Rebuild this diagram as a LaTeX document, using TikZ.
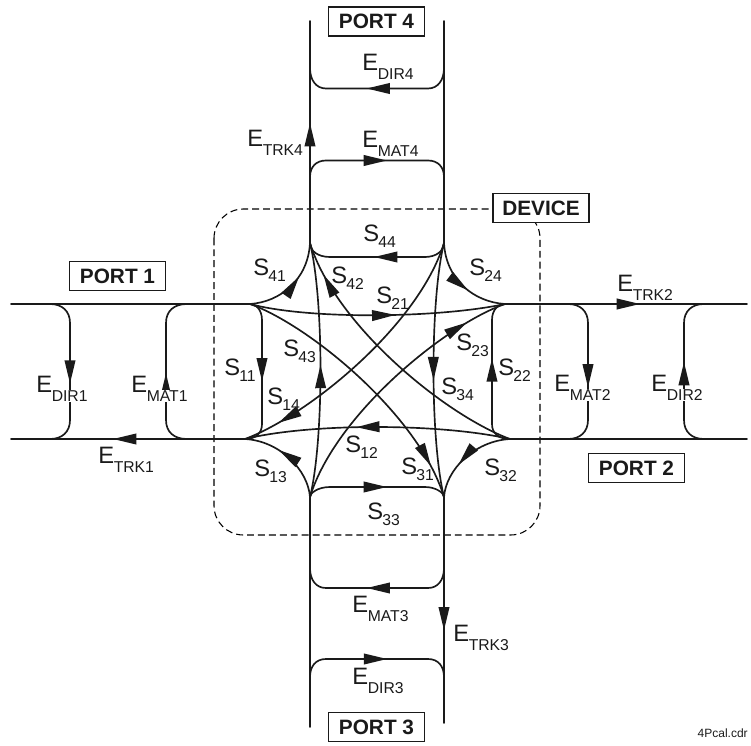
\documentclass[tikz,border=0pt]{standalone}
\usepackage{fontspec}
\setmainfont{Liberation Sans}
\usetikzlibrary{arrows.meta,decorations.markings,calc}
\definecolor{ink}{HTML}{1A1A1A}
\newcommand{\bigtxt}{\fontsize{17.8}{20}\selectfont}
\newcommand{\subtxt}{\fontsize{11.8}{14}\selectfont}
\tikzset{
  x=0.75pt,y=-0.75pt,
  wire/.style={draw=ink,line width=1.25pt,line cap=round},
  ar/.style={postaction={decorate,decoration={markings,mark=at position #1 with {\arrow[ink]{Triangle[length=17.5pt,width=8pt]}}}}},
  portbox/.style={draw=ink,line width=1.05pt,inner sep=0pt,minimum width=72pt,minimum height=21.5pt,fill=white,font=\fontsize{15.6}{18}\selectfont\bfseries,text=ink},
  biglab/.style={anchor=base west,inner sep=0pt,text=ink,font=\bigtxt},
  sublab/.style={anchor=base west,inner sep=0pt,text=ink,font=\subtxt},
  sublabw/.style={sublab,fill=white,inner ysep=0.5pt,inner xsep=0pt}
}
\newcommand{\Slab}[4]{\node[biglab] (s#1) at (#2,#3) {S};\node[sublab] (s#1x) at (#2+15,#3+6) {#4};}
\newcommand{\Elab}[5][sublab]{\node[biglab] (e#2) at (#3,#4) {E};\node[#1] (e#2x) at (#3+15.5,#4+9.5) {#5};}
\begin{document}
\begin{tikzpicture}
\useasboundingbox (0,0) rectangle (751,746);
% terminals
\coordinate (A1) at (250,304); \coordinate (B1) at (245,439);
\coordinate (A2) at (505,304); \coordinate (B2) at (510,439);
\coordinate (A4) at (310,243); \coordinate (B4) at (444,243);
\coordinate (A3) at (310,497); \coordinate (B3) at (444,497);
\coordinate (L1) at (11,304); \coordinate (L2) at (11,439);
\coordinate (R1) at (747,304); \coordinate (R2) at (747,439);
\coordinate (T1) at (310,21); \coordinate (T2) at (444,21);
\coordinate (U1) at (310,727); \coordinate (U2) at (444,723);
% device outline
\draw[draw=black,line width=0.8pt,dash pattern=on 5.2pt off 3pt,rounded corners=22pt] (214,209) rectangle (540,535);
% main lines
\draw[wire,ar=0.564] (B1) -- (L2);
\draw[wire] (L1) -- (A1);
\draw[wire,ar=0.558] (A2) -- (R1);
\draw[wire] (B2) -- (R2);
\draw[wire,ar=0.54] (A4) -- (T1);
\draw[wire] (B4) -- (T2);
\draw[wire] (A3) -- (U1);
\draw[wire,ar=0.59] (B3) -- (U2);
% E loops top
\draw[wire,ar=0.565] (444,68) .. controls (444,80) and (438,88.5) .. (428,88.5) -- (326,88.5) .. controls (316,88.5) and (310,80) .. (310,68);
\draw[wire,ar=0.565] (310,177) .. controls (310,167) and (316,160.5) .. (326,160.5) -- (428,160.5) .. controls (438,160.5) and (444,167) .. (444,177);
% E loops bottom
\draw[wire,ar=0.565] (444,568) .. controls (444,580) and (438,588) .. (428,588) -- (326,588) .. controls (316,588) and (310,580) .. (310,568);
\draw[wire,ar=0.565] (310,677) .. controls (310,666) and (316,659) .. (326,659) -- (428,659) .. controls (438,659) and (444,666) .. (444,677);
% E loops left
\draw[wire,ar=0.576] (50,304) .. controls (62,304) and (70,311) .. (70,323) -- (70,420) .. controls (70,432) and (62,439) .. (50,439);
\draw[wire,ar=0.49] (187,439) .. controls (174,439) and (166,432) .. (166,420) -- (166,323) .. controls (166,311) and (174,304) .. (187,304);
% E loops right
\draw[wire,ar=0.60] (568,304) .. controls (580,304) and (588,311) .. (588,323) -- (588,420) .. controls (588,432) and (580,439) .. (568,439);
\draw[wire,ar=0.56] (704,439) .. controls (692,439) and (684,432) .. (684,420) -- (684,323) .. controls (684,311) and (692,304) .. (704,304);
% S parameters: corners
\draw[wire,ar=0.62] (A1) .. controls (280,302) and (308,280) .. (A4);
\draw[wire,ar=0.58] (B4) .. controls (446,280) and (474,302) .. (A2);
\draw[wire,ar=0.62] (A3) .. controls (308,470) and (280,441) .. (B1);
\draw[wire,ar=0.62] (B2) .. controls (474,441) and (446,470) .. (B3);
% S reflections
\draw[wire,ar=0.52] (B4) .. controls (444,251) and (436,257) .. (425,257) -- (330,257) .. controls (318,257) and (310,251) .. (A4);
\draw[wire,ar=0.57] (A3) .. controls (310,493) and (318,487) .. (330,487) -- (425,487) .. controls (436,487) and (444,493) .. (B3);
\draw[wire,ar=0.55] (A1) .. controls (256,304) and (262,310) .. (262,320) -- (262,424) .. controls (262,433) and (256,439) .. (B1);
\draw[wire,ar=0.6] (B2) .. controls (498,439) and (492,433) .. (492,424) -- (492,320) .. controls (492,310) and (498,304) .. (A2);
% S transmissions
\draw[wire,ar=0.57] (A1) .. controls (310,320) and (440,318) .. (A2);
\draw[wire,ar=0.58] (B2) .. controls (440,423) and (310,423) .. (B1);
\draw[wire,ar=0.52] (A3) .. controls (324,440) and (324,300) .. (A4);
\draw[wire,ar=0.54] (B4) .. controls (430,300) and (430,440) .. (B3);
% S diagonals
\draw[wire,ar=0.88] (B2) .. controls (445,415) and (335,325) .. (A4);
\draw[wire,ar=0.88] (A1) .. controls (309,325) and (419,415) .. (B3);
\draw[wire,ar=0.87] (B4) .. controls (419,325) and (309,415) .. (B1);
\draw[wire,ar=0.85] (A3) .. controls (335,415) and (445,325) .. (A2);
% port boxes
\node[portbox] (port4) at (376.5,21.5) {PORT 4};
\node[portbox] (port1) at (117.5,276) {PORT 1};
\node[portbox] (port2) at (636.5,468) {PORT 2};
\node[portbox] (port3) at (376.5,727) {PORT 3};
\node[portbox] (device) at (541,208) {DEVICE};
% S labels
\Slab{44}{363}{241}{44}
\Slab{41}{253}{275}{41}
\Slab{42}{331}{283}{42}
\Slab{21}{376}{303}{21}
\Slab{24}{469}{275}{24}
\Slab{43}{283}{356}{43}
\Slab{23}{456}{350}{23}
\Slab{22}{498}{375}{22}
\Slab{11}{224}{375}{11}
\Slab{14}{267}{404}{14}
\Slab{34}{441}{394}{34}
\Slab{12}{345}{452}{12}
\Slab{13}{254}{476}{13}
\Slab{31}{401}{474}{31}
\Slab{32}{484}{475}{32}
\Slab{33}{367}{519}{33}
% E labels
\Elab{dirfour}{362}{70}{DIR4}
\Elab{matfour}{362}{147}{MAT4}
\Elab{trkfour}{247}{146}{TRK4}
\Elab[sublabw]{dirone}{36}{392}{DIR1}
\Elab[sublabw]{matone}{131}{392}{MAT1}
\Elab{trkone}{98}{463}{TRK1}
\Elab[sublabw]{mattwo}{554}{391}{MAT2}
\Elab[sublabw]{dirtwo}{651}{391}{DIR2}
\Elab{trktwo}{617}{291}{TRK2}
\Elab{matthree}{352}{612}{MAT3}
\Elab{trkthree}{453}{641}{TRK3}
\Elab{dirthree}{352}{684}{DIR3}
\node[anchor=base east,inner sep=0pt,text=ink,font=\fontsize{9}{11}\selectfont] (cdr) at (748,737) {4Pcal.cdr};
\end{tikzpicture}
\end{document}
